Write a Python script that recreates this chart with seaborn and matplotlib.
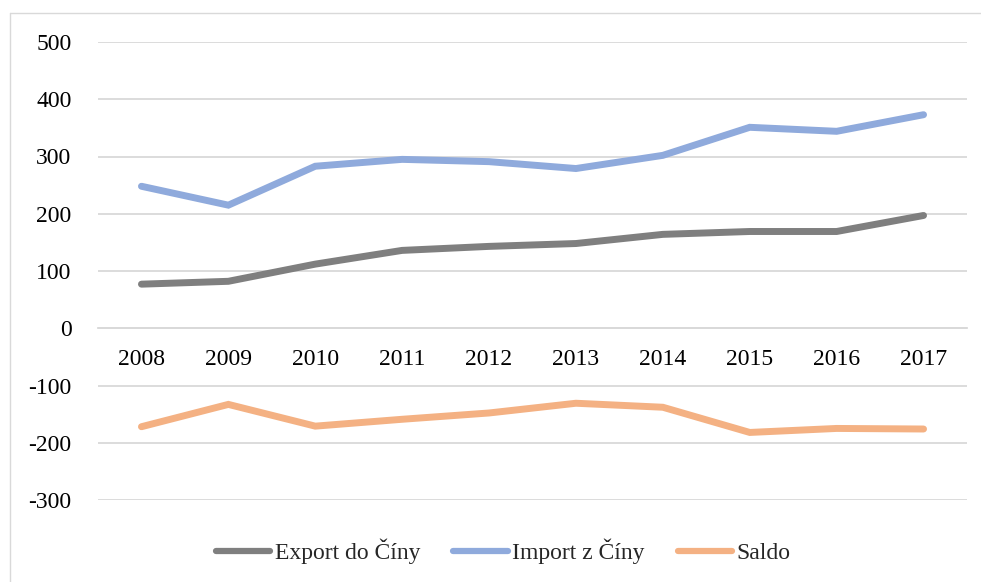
import pandas as pd
import matplotlib.pyplot as plt
import seaborn as sns
from matplotlib.lines import Line2D

years = ['2008', '2009', '2010', '2011', '2012', '2013', '2014', '2015', '2016', '2017']
export_cn = [77, 82, 112, 136, 143, 148, 164, 169, 169, 197]
import_cn = [248, 215, 283, 295, 291, 279, 302, 351, 344, 373]
saldo = [-172, -133, -171, -159, -148, -131, -138, -182, -175, -176]

series_names = ['Export do Číny', 'Import z Číny', 'Saldo']
colors = ['#7f7f7f', '#8faadc', '#f4b183']

df = pd.DataFrame({'Rok': years, series_names[0]: export_cn,
                   series_names[1]: import_cn, series_names[2]: saldo})
long = df.melt(id_vars='Rok', var_name='Řada', value_name='Hodnota')

sns.set_style('white')
plt.rcParams['font.family'] = ['Liberation Serif', 'DejaVu Serif']
plt.rcParams['axes.unicode_minus'] = False

fig = plt.figure(figsize=(9.81, 5.82), dpi=100)
ax = fig.add_axes([98 / 981, 1 - 500 / 582, 869 / 981, 458 / 582])

sns.lineplot(data=long, x='Rok', y='Hodnota', hue='Řada', hue_order=series_names,
             palette=colors, linewidth=5.0, sort=False, ax=ax,
             solid_capstyle='round', solid_joinstyle='miter')

ax.set_xlim(-0.5, 9.5)
ax.set_ylim(-300, 500)
ax.set_yticks(range(-300, 501, 100))
ax.yaxis.grid(True, color='#d9d9d9', linewidth=1.3)
ax.set_axisbelow(True)
for s in ['top', 'right', 'left']:
    ax.spines[s].set_visible(False)
ax.spines['bottom'].set_position(('data', 0))
ax.spines['bottom'].set_color('#d9d9d9')
ax.spines['bottom'].set_linewidth(1.3)
ax.tick_params(axis='both', length=0, labelsize=17, colors='black')
ax.tick_params(axis='x', pad=15)
ax.tick_params(axis='y', pad=19)
ax.set_xlabel('')
ax.set_ylabel('')

ax.legend(loc='lower center', bbox_to_anchor=(0.513, -0.006), bbox_transform=fig.transFigure,
          ncol=3, frameon=False, fontsize=17, handlelength=2.3, columnspacing=1.4,
          handletextpad=0.2)
for line in ax.get_legend().get_lines():
    line.set_linewidth(4.5)
    line.set_solid_capstyle('round')

# chart frame (only top and left edges are inside the picture)
fx, fy = 9.5 / 981, 1 - 12.5 / 582
fig.lines.append(Line2D([fx, 1.0], [fy, fy], transform=fig.transFigure,
                        color='#d9d9d9', linewidth=1.0))
fig.lines.append(Line2D([fx, fx], [0.0, fy], transform=fig.transFigure,
                        color='#d9d9d9', linewidth=1.0))

plt.savefig('out.png', dpi=100)
